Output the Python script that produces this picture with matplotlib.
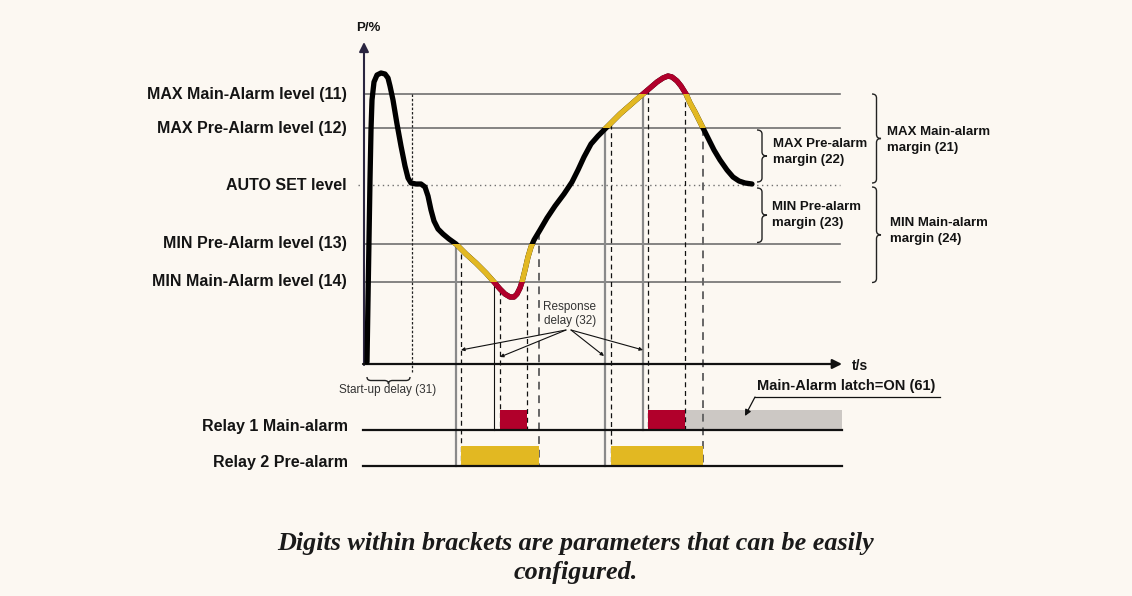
import matplotlib
matplotlib.use("Agg")
import matplotlib.pyplot as plt
from matplotlib.path import Path
from matplotlib.patches import PathPatch, Rectangle

# ---------------- data (t and P in chart units, origin at the axes origin) ----------------
level_names = ["MAX Main-Alarm level (11)", "MAX Pre-Alarm level (12)", "AUTO SET level",
               "MIN Pre-Alarm level (13)", "MIN Main-Alarm level (14)"]
level_values = [270, 236, 179, 120.5, 82.5]
MAX_MAIN, MAX_PRE, AUTO_SET, MIN_PRE, MIN_MAIN = level_values

curve_t = [3, 4, 5, 6, 7, 8, 10, 13, 17, 21, 24, 26, 29, 33, 37, 41, 44, 47, 52, 57, 61, 64,
           67, 70, 74, 79, 85, 92, 102, 112, 122, 130, 136, 141, 146, 150, 153, 156, 158, 161,
           164, 167, 170, 176, 183, 191, 200, 208, 214, 220, 227, 234, 241, 248, 256, 264, 272,
           279, 286, 293, 299, 304, 308, 313, 317, 322, 326, 331, 335, 339, 344, 350, 356, 363,
           369, 375, 381, 388]
curve_p = [2, 64, 124, 184, 234, 264, 282, 289, 291, 290, 286, 278, 264, 240, 218, 198, 186,
           181, 180, 180, 177, 168, 154, 143, 135, 130, 125, 120, 110, 101, 91, 82, 75, 70, 67,
           67, 70, 76, 82, 94, 107, 117, 124, 134, 146, 158, 170, 182, 194, 207, 220, 228, 235,
           242, 250, 257, 264, 270, 276, 282, 286, 288, 287, 283, 278, 270, 261, 252, 244, 236,
           226, 214, 204, 194, 187, 183, 181, 180]

startup_delay = 48
crossing_t = [92, 130, 241, 279]            # solid verticals at level crossings
crossing_top = [MIN_PRE, MIN_MAIN, MAX_PRE, MAX_MAIN]
crossing_row = [2, 1, 2, 1]                 # relay row reached
relay1_on = [136, 284]
relay1_off = [163, 321]
relay2_on = [97, 247]
relay2_off = [175, 339]
relay1_on_top = [74, 275]
relay1_off_top = [78, 271]
relay2_on_top = [110, 240]
relay2_off_top = [132, 236]
latch_end = 478
relay_names = ["Relay 1 Main-alarm", "Relay 2 Pre-alarm"]
relay_base = [-66, -102]
bar_height = 19
delay_targets_t = [97, 136, 240, 279]
delay_targets_p = [14, 7, 8, 14]

# ---------------- colours ----------------
BG = "#FCF8F2"
YEL = "#E2B822"
RED = "#B1002B"
LATCH = "#CCC8C4"
GRID = "#707070"
TXT = "#141414"

W, H = 1132, 596
OX, OY = 364, 364
fig = plt.figure(figsize=(W / 100, H / 100), dpi=100, facecolor=BG)
ax = fig.add_axes([0, 0, 1, 1])
ax.set_xlim(-OX, W - OX)
ax.set_ylim(OY - H, OY)
ax.axis("off")
ax.set_facecolor(BG)

bold = dict(family="Liberation Sans", fontweight="bold", color=TXT)
reg = dict(family="Liberation Sans", color="#333333")

# threshold lines
for name, v in zip(level_names, level_values):
    if name.startswith("AUTO"):
        ax.plot([-6, 476], [v, v], color=GRID, lw=1.0, ls=(0, (1, 2.5)), zorder=1)
    else:
        ax.plot([0, 476], [v, v], color=GRID, lw=1.2, zorder=1)
    ax.text(-17, v, name, ha="right", va="center", fontsize=11.5, **bold)

# axes arrows
ax.annotate("", xy=(0, 322), xytext=(0, -1),
            arrowprops=dict(arrowstyle="-|>", color="#2a2540", lw=1.5, mutation_scale=14,
                            shrinkA=0, shrinkB=0), zorder=5)
ax.annotate("", xy=(478, 0), xytext=(-1, 0),
            arrowprops=dict(arrowstyle="-|>", color="#111111", lw=1.6, mutation_scale=14,
                            shrinkA=0, shrinkB=0), zorder=5)
ax.text(4, 336, "P/%", ha="center", va="center", fontsize=9.5, **bold)
ax.text(496, -2, "t/s", ha="center", va="center", fontsize=10, **bold)

# relay baselines
for name, b in zip(relay_names, relay_base):
    ax.plot([-1, latch_end], [b, b], color="#111111", lw=1.6, zorder=4)
    ax.text(-16, b + 3, name, ha="right", va="center", fontsize=11.5, **bold)

# start-up delay
ax.plot([startup_delay, startup_delay], [MAX_MAIN, -8], color="#222222", lw=0.9,
        ls=(0, (2, 1.5)), zorder=2)


def brace_v(x0, top, bot, w, r=4):
    mid = (top + bot) / 2
    xm = x0 + w / 2
    verts = [(x0, top), (xm, top), (xm, top - r), (xm, mid + r), (xm, mid), (x0 + w, mid),
             (xm, mid), (xm, mid - r), (xm, bot + r), (xm, bot), (x0, bot)]
    codes = [Path.MOVETO, Path.CURVE3, Path.CURVE3, Path.LINETO, Path.CURVE3, Path.CURVE3,
             Path.CURVE3, Path.CURVE3, Path.LINETO, Path.CURVE3, Path.CURVE3]
    ax.add_patch(PathPatch(Path(verts, codes), fill=False, lw=1.0, ec="#222222", zorder=3))


def brace_h(left, right, y0, h, r=4):
    mid = (left + right) / 2
    ym = y0 - h / 2
    verts = [(left, y0), (left, ym), (left + r, ym), (mid - r, ym), (mid, ym), (mid, y0 - h),
             (mid, ym), (mid + r, ym), (right - r, ym), (right, ym), (right, y0)]
    codes = [Path.MOVETO, Path.CURVE3, Path.CURVE3, Path.LINETO, Path.CURVE3, Path.CURVE3,
             Path.CURVE3, Path.CURVE3, Path.LINETO, Path.CURVE3, Path.CURVE3]
    ax.add_patch(PathPatch(Path(verts, codes), fill=False, lw=1.0, ec="#222222", zorder=3))


brace_h(3, 46, -13, 7)
ax.text(24, -26, "Start-up delay (31)", ha="center", va="center", fontsize=8.5, **reg)

# margin braces
brace_v(393, MAX_PRE - 2, AUTO_SET + 3, 10)
brace_v(393, AUTO_SET - 3, MIN_PRE + 1, 10)
brace_v(508, MAX_MAIN, AUTO_SET + 2, 9)
brace_v(508, AUTO_SET - 2, MIN_MAIN - 1, 9)
ax.text(409, 212, "MAX Pre-alarm\nmargin (22)", ha="left", va="center", fontsize=9.5,
        linespacing=1.35, **bold)
ax.text(408, 149, "MIN Pre-alarm\nmargin (23)", ha="left", va="center", fontsize=9.5,
        linespacing=1.35, **bold)
ax.text(523, 224, "MAX Main-alarm\nmargin (21)", ha="left", va="center", fontsize=9.5,
        linespacing=1.35, **bold)
ax.text(526, 133, "MIN Main-alarm\nmargin (24)", ha="left", va="center", fontsize=9.5,
        linespacing=1.35, **bold)

# solid verticals at crossings
for t, top, row in zip(crossing_t, crossing_top, crossing_row):
    bottom = relay_base[row - 1]
    if t == 130:
        ax.plot([t, t], [top, bottom], color="#111111", lw=0.8, zorder=2)
    else:
        ax.plot([t, t], [top, bottom], color="#8a8a8a", lw=1.6, zorder=2)

# dashed verticals at relay switching
for ts, tops in ((relay1_on, relay1_on_top), (relay1_off, relay1_off_top)):
    for t, top in zip(ts, tops):
        ax.plot([t, t], [top, relay_base[0]], color="#111111", lw=0.9, ls=(0, (4, 3)), zorder=2)
for t, top in zip(relay2_on, relay2_on_top):
    ax.plot([t, t], [top, relay_base[1]], color="#111111", lw=0.9, ls=(0, (4, 3)), zorder=2)
for t, top in zip(relay2_off, relay2_off_top):
    ax.plot([t, t], [top, relay_base[1]], color="#666666", lw=1.4, ls=(0, (4, 3)), zorder=2)

# relay bars
for a, b in zip(relay1_on, relay1_off):
    ax.add_patch(Rectangle((a, relay_base[0] + 1), b - a, bar_height, fc=RED, ec="none", zorder=3))
ax.add_patch(Rectangle((relay1_off[-1], relay_base[0] + 1), latch_end - relay1_off[-1], bar_height,
                       fc=LATCH, ec="none", zorder=1.5))
for a, b in zip(relay2_on, relay2_off):
    ax.add_patch(Rectangle((a, relay_base[1] + 1), b - a, bar_height, fc=YEL, ec="none", zorder=3))

# latch annotation
ax.text(393, -22, "Main-Alarm latch=ON (61)", ha="left", va="center", fontsize=10.5, **bold)
ax.plot([391, 576], [-33, -33], color="#111111", lw=0.9, zorder=4)
ax.annotate("", xy=(381, -52), xytext=(391, -33),
            arrowprops=dict(arrowstyle="-|>", color="#111111", lw=0.9, mutation_scale=9,
                            shrinkA=0, shrinkB=0), zorder=4)

# response delay annotation
ax.text(206, 50, "Response\ndelay (32)", ha="center", va="center", fontsize=8.5,
        linespacing=1.2, **reg)
for i, (tt, pp) in enumerate(zip(delay_targets_t, delay_targets_p)):
    sx = 202 if i < 2 else 207
    ax.annotate("", xy=(tt, pp), xytext=(sx, 34),
                arrowprops=dict(arrowstyle="-|>", color="#111111", lw=0.8, mutation_scale=5,
                                shrinkA=0, shrinkB=0), zorder=4)

# the measured curve: black, with yellow / red parts clipped to the alarm bands
lw_curve = 3.8
ax.plot(curve_t, curve_p, color="#000000", lw=lw_curve, solid_capstyle="round",
        solid_joinstyle="round", zorder=6)
bands = [(MIN_MAIN, MIN_PRE, YEL), (MAX_PRE, MAX_MAIN, YEL), (-50, MIN_MAIN, RED),
         (MAX_MAIN, 400, RED)]
for lo, hi, col in bands:
    ln, = ax.plot(curve_t, curve_p, color=col, lw=lw_curve, solid_capstyle="butt",
                  solid_joinstyle="round", zorder=7)
    clip = Rectangle((startup_delay + 20, lo), 500, hi - lo, transform=ax.transData)
    ln.set_clip_path(clip)

# caption
fig.text(576 / W, 1 - 558 / H, "Digits within brackets are parameters that can be easily\nconfigured.",
         ha="center", va="center", fontsize=18.8, family="Liberation Serif",
         fontweight="bold", fontstyle="italic", color="#1a1a1a", linespacing=1.35)

fig.savefig("out.png", dpi=100, facecolor=BG)
